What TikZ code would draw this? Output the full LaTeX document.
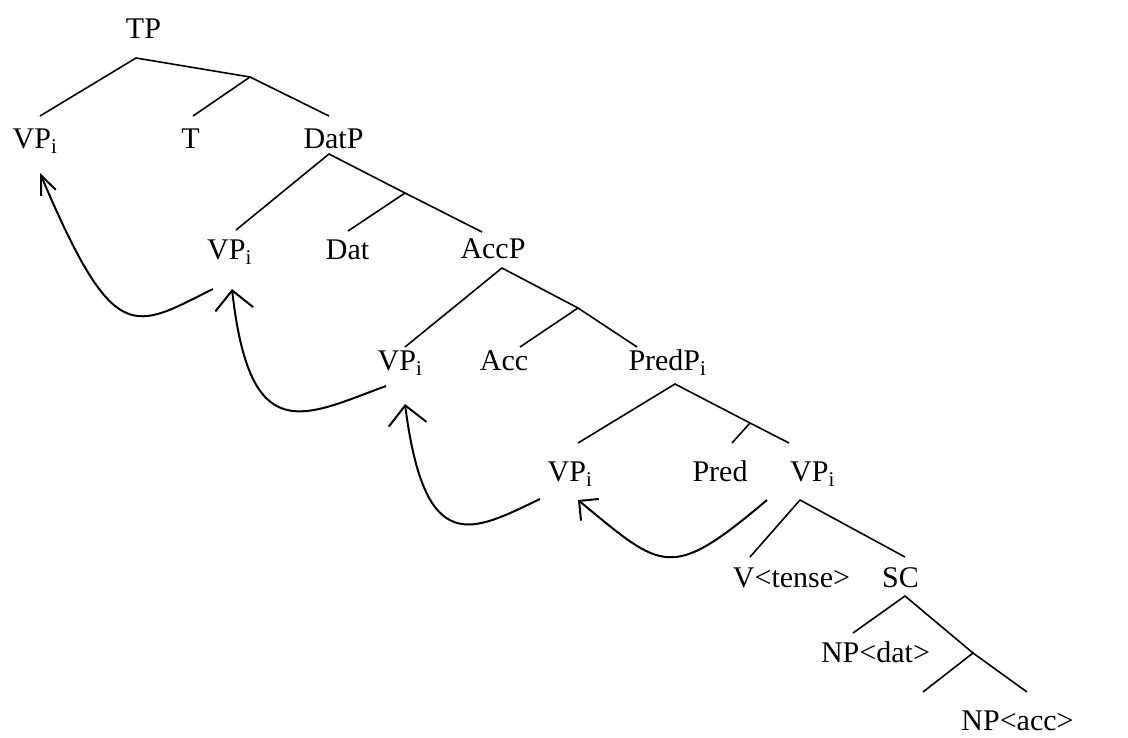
\documentclass[tikz,border=0pt]{standalone}
\usepackage{fontspec}
\setmainfont{Liberation Serif}
\usetikzlibrary{arrows.meta}
\newcommand{\VPi}{VP\textsubscript{i}}

\begin{document}
\begin{tikzpicture}[x=1pt,y=-1pt,
    lbl/.style={anchor=base,inner sep=0pt,font=\fontsize{30}{34}\selectfont},
    branch/.style={line width=1.6pt},
    mvarrow/.style={line width=2pt,-{Straight Barb[length=19pt,width=38pt]}}]
    \useasboundingbox (0,0) rectangle (1128,737);
    % labels
    \node[lbl] (tp)     at (143.5,38)  {TP};
    \node[lbl] (vp1)    at (35,148)    {\VPi};
    \node[lbl] (t)      at (190.5,148) {T};
    \node[lbl] (datp)   at (333.5,148) {DatP};
    \node[lbl] (vp2)    at (229.5,259) {\VPi};
    \node[lbl] (dat)    at (347.5,259) {Dat};
    \node[lbl] (accp)   at (493,258)   {AccP};
    \node[lbl] (vp3)    at (400,370)   {\VPi};
    \node[lbl] (acc)    at (504,370)   {Acc};
    \node[lbl] (predp)  at (667.5,370) {PredP\textsubscript{i}};
    \node[lbl] (vp4)    at (570,481)   {\VPi};
    \node[lbl] (pred)   at (720,481)   {Pred};
    \node[lbl] (vp5)    at (812.5,481) {\VPi};
    \node[lbl] (vtense) at (791.5,587) {V<tense>};
    \node[lbl] (sc)     at (900.5,587) {SC};
    \node[lbl] (npdat)  at (875.5,662) {NP<dat>};
    \node[lbl] (npacc)  at (1017.5,730) {NP<acc>};
    % branch ends
    \coordinate (tp-b) at (136,58);
    \coordinate (j1) at (250,77);
    \coordinate (vp1-t) at (40,116);
    \coordinate (t-t) at (193,116);
    \coordinate (datp-t) at (329,116);
    \coordinate (datp-b) at (329,154);
    \coordinate (j2) at (405,193);
    \coordinate (vp2-t) at (236,230);
    \coordinate (dat-t) at (348,231);
    \coordinate (accp-t) at (482,232);
    \coordinate (accp-b) at (502,268);
    \coordinate (j3) at (578,308);
    \coordinate (vp3-t) at (405,347);
    \coordinate (acc-t) at (520,347);
    \coordinate (predp-t) at (637,347);
    \coordinate (predp-b) at (675,384);
    \coordinate (j4) at (750,423);
    \coordinate (vp4-t) at (578,443);
    \coordinate (pred-t) at (732,443);
    \coordinate (vp5-t) at (789,443);
    \coordinate (vp5-b) at (800,500);
    \coordinate (vtense-t) at (750,557);
    \coordinate (sc-t) at (905,557);
    \coordinate (sc-b) at (905,596);
    \coordinate (j5) at (973,653);
    \coordinate (npdat-t) at (853,633);
    \coordinate (trace-t) at (923,692);
    \coordinate (npacc-t) at (1027,692);
    % movement ends
    \coordinate (vp1-in) at (40,173);
    \coordinate (vp2-out) at (213,289);
    \coordinate (vp2-in) at (232,289);
    \coordinate (vp3-out) at (386,386);
    \coordinate (vp3-in) at (405,404);
    \coordinate (vp4-out) at (540,499);
    \coordinate (vp4-in) at (578,500);
    \coordinate (vp5-out) at (767,500);
    % tree
    \draw[branch] (vp1-t) -- (tp-b) -- (j1) -- (datp-t);
    \draw[branch] (j1) -- (t-t);
    \draw[branch] (vp2-t) -- (datp-b) -- (j2) -- (accp-t);
    \draw[branch] (j2) -- (dat-t);
    \draw[branch] (vp3-t) -- (accp-b) -- (j3) -- (predp-t);
    \draw[branch] (j3) -- (acc-t);
    \draw[branch] (vp4-t) -- (predp-b) -- (j4) -- (vp5-t);
    \draw[branch] (j4) -- (pred-t);
    \draw[branch] (vtense-t) -- (vp5-b) -- (sc-t);
    \draw[branch] (npdat-t) -- (sc-b) -- (j5) -- (npacc-t);
    \draw[branch] (j5) -- (trace-t);
    % movement
    \draw[mvarrow,-{Straight Barb[length=19pt,width=16pt]}] (vp2-out) .. controls (134,328) and (115,350) .. (vp1-in);
    \draw[mvarrow] (vp3-out) .. controls (304,416) and (250,450) .. (vp2-in);
    \draw[mvarrow] (vp4-out) .. controls (473,531) and (425,560) .. (vp3-in);
    \draw[mvarrow,-{Straight Barb[length=14pt,width=28pt]}] (vp5-out) .. controls (670,582) and (663,570) .. (vp4-in);
\end{tikzpicture}
\end{document}
